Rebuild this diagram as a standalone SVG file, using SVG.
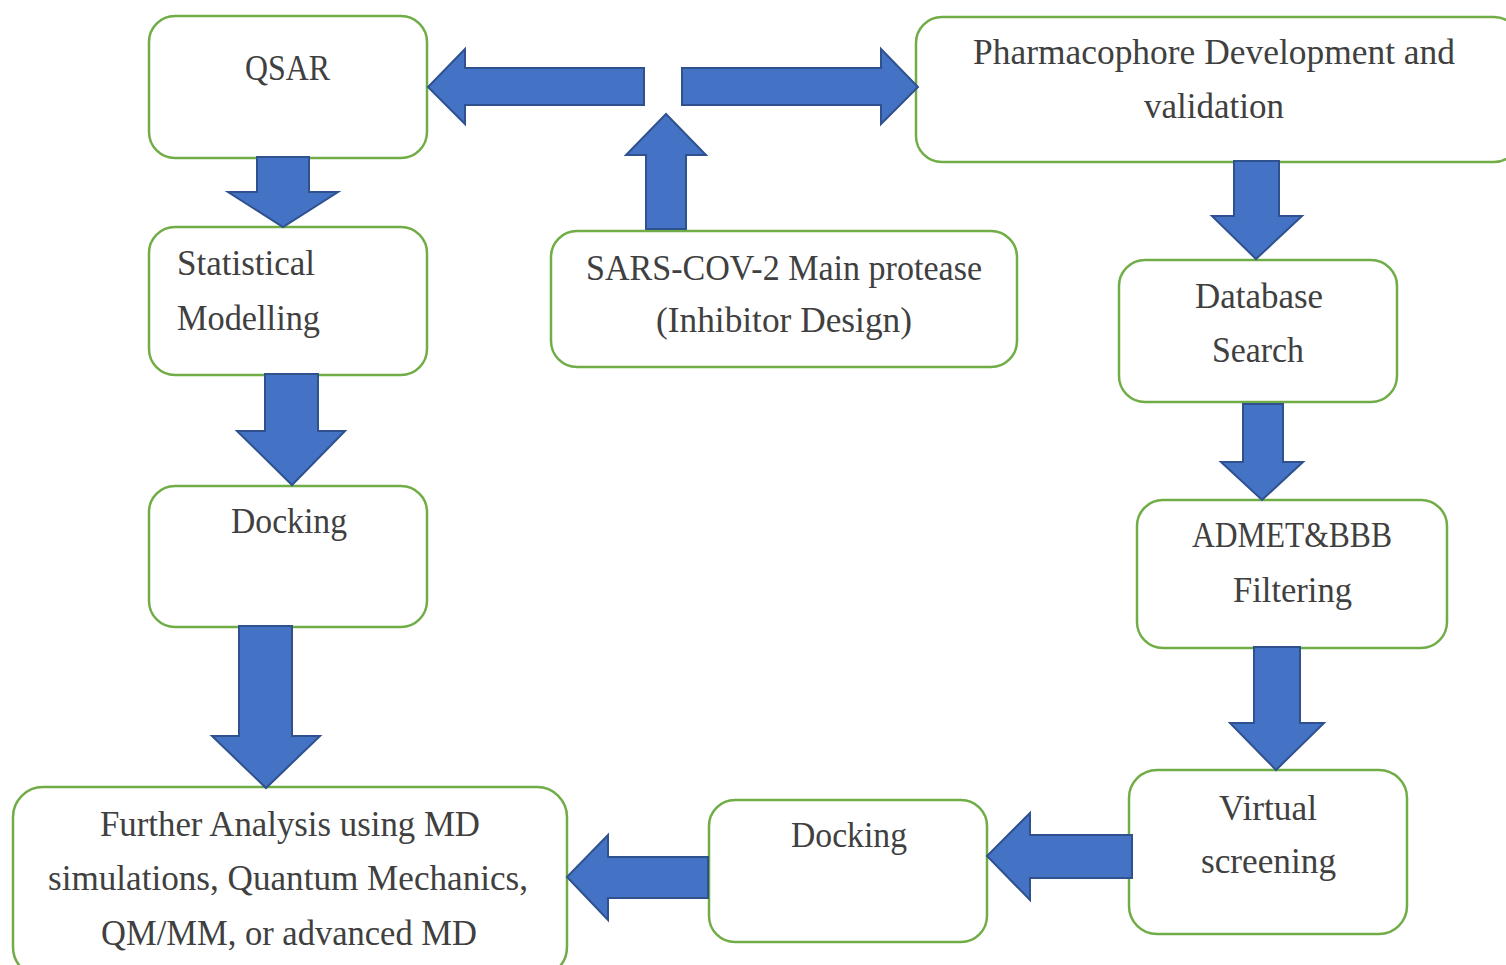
<svg xmlns="http://www.w3.org/2000/svg" width="1506" height="965" viewBox="0 0 1506 965">
<style>
.box{fill:#ffffff;stroke:#70AD47;stroke-width:2.5}
.arr{fill:#4472C4;stroke:#2F528F;stroke-width:2;stroke-linejoin:miter}
text{font-family:"Liberation Serif","Times New Roman",serif;font-size:35px;fill:#404040}
</style>
<rect width="1506" height="965" fill="#ffffff"/>
<g id="node-qsar">
<rect class="box" x="149" y="16" width="278" height="142" rx="26"/>
<text x="245" y="80" textLength="85" lengthAdjust="spacingAndGlyphs">QSAR</text>
</g>
<g id="node-pharmacophore">
<rect class="box" x="916" y="17" width="604" height="145" rx="26"/>
<text x="973" y="64" textLength="482" lengthAdjust="spacingAndGlyphs">Pharmacophore Development and</text>
<text x="1144" y="118" textLength="140" lengthAdjust="spacingAndGlyphs">validation</text>
</g>
<g id="node-statistical">
<rect class="box" x="149" y="227" width="278" height="148" rx="26"/>
<text x="177" y="275" textLength="138" lengthAdjust="spacingAndGlyphs">Statistical</text>
<text x="177" y="330" textLength="143" lengthAdjust="spacingAndGlyphs">Modelling</text>
</g>
<g id="node-sars">
<rect class="box" x="551" y="231" width="466" height="136" rx="26"/>
<text x="586" y="280" textLength="396" lengthAdjust="spacingAndGlyphs">SARS-COV-2 Main protease</text>
<text x="656" y="332" textLength="256" lengthAdjust="spacingAndGlyphs">(Inhibitor Design)</text>
</g>
<g id="node-database">
<rect class="box" x="1119" y="260" width="278" height="142" rx="26"/>
<text x="1195" y="308" textLength="128" lengthAdjust="spacingAndGlyphs">Database</text>
<text x="1212" y="362" textLength="92" lengthAdjust="spacingAndGlyphs">Search</text>
</g>
<g id="node-admet">
<rect class="box" x="1137" y="500" width="310" height="148" rx="26"/>
<text x="1192" y="547" textLength="200" lengthAdjust="spacingAndGlyphs">ADMET&amp;BBB</text>
<text x="1233" y="602" textLength="119" lengthAdjust="spacingAndGlyphs">Filtering</text>
</g>
<g id="node-docking-left">
<rect class="box" x="149" y="486" width="278" height="141" rx="26"/>
<text x="231" y="533" textLength="116" lengthAdjust="spacingAndGlyphs">Docking</text>
</g>
<g id="node-virtual">
<rect class="box" x="1129" y="770" width="278" height="164" rx="28"/>
<text x="1219" y="820" textLength="98" lengthAdjust="spacingAndGlyphs">Virtual</text>
<text x="1201" y="873" textLength="135" lengthAdjust="spacingAndGlyphs">screening</text>
</g>
<g id="node-docking-bottom">
<rect class="box" x="709" y="800" width="278" height="142" rx="26"/>
<text x="791" y="847" textLength="116" lengthAdjust="spacingAndGlyphs">Docking</text>
</g>
<g id="node-further">
<rect class="box" x="13" y="787" width="554" height="190" rx="30"/>
<text x="100" y="836" textLength="380" lengthAdjust="spacingAndGlyphs">Further Analysis using MD</text>
<text x="48" y="890" textLength="480" lengthAdjust="spacingAndGlyphs">simulations, Quantum Mechanics,</text>
<text x="101" y="945" textLength="376" lengthAdjust="spacingAndGlyphs">QM/MM, or advanced MD</text>
</g>
<g id="connectors">
<!-- to QSAR (left) -->
<polygon class="arr" points="644,68 465,68 465,49 428,87 465,124 465,105 644,105"/>
<!-- to Pharmacophore (right) -->
<polygon class="arr" points="682,68 881,68 881,49 918,87 881,124 881,105 682,105"/>
<!-- up from SARS -->
<polygon class="arr" points="646,229 646,155 626,155 666,114 706,155 686,155 686,229"/>
<!-- QSAR down to Statistical -->
<polygon class="arr" points="257,157 309,157 309,192 338,192 283,227 228,192 257,192"/>
<!-- Statistical down to Docking -->
<polygon class="arr" points="265,374 318,374 318,431 345,431 292,485 237,431 265,431"/>
<!-- Docking down to Further -->
<polygon class="arr" points="239,626 292,626 292,736 320,736 266,788 212,736 239,736"/>
<!-- Pharmacophore down to Database -->
<polygon class="arr" points="1234,161 1279,161 1279,216 1302,216 1256,259 1212,216 1234,216"/>
<!-- Database down to ADMET -->
<polygon class="arr" points="1243,404 1283,404 1283,462 1303,462 1262,500 1221,462 1243,462"/>
<!-- ADMET down to Virtual -->
<polygon class="arr" points="1254,647 1300,647 1300,723 1324,723 1276,770 1230,723 1254,723"/>
<!-- Virtual left to Docking -->
<polygon class="arr" points="1132,835 1030,835 1030,813 987,856 1030,900 1030,878 1132,878"/>
<!-- Docking left to Further -->
<polygon class="arr" points="708,857 608,857 608,835 567,877 608,920 608,898 708,898"/>
</g>
</svg>
